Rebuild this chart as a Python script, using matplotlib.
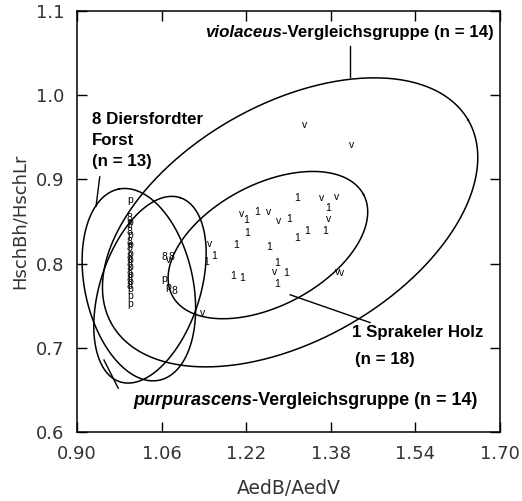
import numpy as np
import matplotlib.pyplot as plt

# Data: ratio AedB/AedV (x) against HschBh/HschLr (y)
v_x = [1.331, 1.420, 1.363, 1.390, 1.212, 1.263, 1.282, 1.375, 1.150, 1.273, 1.392, 1.401, 1.138, 1.074]
v_y = [0.965, 0.941, 0.878, 0.879, 0.859, 0.861, 0.851, 0.853, 0.823, 0.790, 0.790, 0.789, 0.741, 0.804]

s1_x = [1.316, 1.375, 1.220, 1.240, 1.301, 1.221, 1.335, 1.316, 1.369,
        1.201, 1.263, 1.159, 1.144, 1.278, 1.195, 1.212, 1.295, 1.278]
s1_y = [0.878, 0.866, 0.852, 0.861, 0.853, 0.836, 0.839, 0.830, 0.839,
        0.822, 0.820, 0.809, 0.802, 0.801, 0.785, 0.783, 0.789, 0.776]

d8_x = [1.00, 1.00, 1.00, 1.00, 1.00, 1.00, 1.00, 1.00, 1.00, 1.00, 1.066, 1.078, 1.085]
d8_y = [0.854, 0.846, 0.838, 0.826, 0.818, 0.808, 0.800, 0.790, 0.782, 0.774, 0.808, 0.808, 0.768]

p_x = [1.00, 1.00, 1.064, 1.072, 1.00, 1.00, 1.00, 1.00, 1.00, 1.00, 1.00, 1.00, 1.00, 1.00]
p_y = [0.876, 0.752, 0.782, 0.772, 0.850, 0.834, 0.822, 0.812, 0.804, 0.796, 0.786, 0.778, 0.770, 0.762]

# Ellipses: centre (data), semi axes in tick steps, angle in degrees
ell_names = ['violaceus', 'sprakeler', 'diersfordt', 'purpurascens']
ell_cx = [1.303, 1.261, 1.017, 1.038]
ell_cy = [0.849, 0.822, 0.775, 0.769]
ell_a = [2.43, 1.28, 1.16, 1.15]
ell_b = [1.40, 0.72, 0.64, 0.59]
ell_ang = [30, 28, 102, 72]

x_ticks = [0.90, 1.06, 1.22, 1.38, 1.54, 1.70]
y_ticks = [0.6, 0.7, 0.8, 0.9, 1.0, 1.1]

X_STEP, Y_STEP = 0.16, 0.1


def Ellipse_Path(cx, cy, a, b, ang):
	t = np.linspace(0, 2 * np.pi, 400)
	th = np.deg2rad(ang)
	u = a * np.cos(t) * np.cos(th) - b * np.sin(t) * np.sin(th)
	w = a * np.cos(t) * np.sin(th) + b * np.sin(t) * np.cos(th)
	return cx + u * X_STEP, cy + w * Y_STEP


def Label_Italic(ax, x, y, it_part, rest, **kw):
	t1 = ax.text(x, y, it_part, style='italic', va='center', ha='left', **kw)
	ax.annotate(rest, xy=(1, 0), xycoords=t1, va='bottom', ha='left', **kw)


fig = plt.figure(figsize=(5.22, 5.01), dpi=100)
ax = fig.add_axes([0.1475, 0.1377, 0.8105, 0.8403])

# Ellipses
for i in range(len(ell_names)):
	ex, ey = Ellipse_Path(ell_cx[i], ell_cy[i], ell_a[i], ell_b[i], ell_ang[i])
	ax.plot(ex, ey, color='k', linewidth=1.1)

# Points drawn as letters
mk = dict(ha='center', va='center', fontsize=7.5, family='Liberation Sans', color='k')
for x, y in zip(v_x, v_y):
	ax.text(x, y, 'v', **mk)
for x, y in zip(s1_x, s1_y):
	ax.text(x, y, '1', **mk)
for x, y in zip(d8_x, d8_y):
	ax.text(x, y, '8', **mk)
for x, y in zip(p_x, p_y):
	ax.text(x, y, 'p', **mk)

# Labels and pointers
lab = dict(fontsize=12.2, family='Liberation Sans', fontweight='bold', color='k')
Label_Italic(ax, 1.142, 1.075, 'violaceus', '-Vergleichsgruppe (n = 14)', **lab)
ax.plot([1.416, 1.416], [1.058, 1.022], color='k', linewidth=1)

ax.text(0.928, 0.971, '8 Diersfordter', va='center', ha='left', **lab)
ax.text(0.928, 0.946, 'Forst', va='center', ha='left', **lab)
ax.text(0.928, 0.921, '(n = 13)', va='center', ha='left', **lab)
ax.plot([0.943, 0.936], [0.903, 0.868], color='k', linewidth=1)

ax.text(1.420, 0.718, '1 Sprakeler Holz', va='center', ha='left', **lab)
ax.text(1.426, 0.686, '(n = 18)', va='center', ha='left', **lab)
ax.plot([1.303, 1.454], [0.763, 0.730], color='k', linewidth=1)

lab_p = dict(lab, fontsize=13)
Label_Italic(ax, 1.006, 0.638, 'purpurascens', '-Vergleichsgruppe (n = 14)', **lab_p)
ax.plot([0.978, 0.951], [0.652, 0.6855], color='k', linewidth=1)

ax.set_xlim(0.90, 1.70)
ax.set_ylim(0.6, 1.1)
ax.set_xticks(x_ticks)
ax.set_xticklabels(['{:.2f}'.format(t) for t in x_ticks])
ax.set_yticks(y_ticks)
ax.set_yticklabels(['{:.1f}'.format(t) for t in y_ticks])
ax.tick_params(direction='in', length=7, width=1, top=True, right=True,
	labelsize=13, labelcolor='#333333', pad=9)
for lbl in ax.get_xticklabels() + ax.get_yticklabels():
	lbl.set_family('DejaVu Sans')
ax.set_xlabel('AedB/AedV', fontsize=13.5, family='DejaVu Sans', color='#333333', labelpad=12)
ax.set_ylabel('HschBh/HschLr', fontsize=13, family='DejaVu Sans', color='#333333', labelpad=5)
for s in ax.spines.values():
	s.set_linewidth(1.1)

plt.savefig('out.png', dpi=100)
plt.close('all')
